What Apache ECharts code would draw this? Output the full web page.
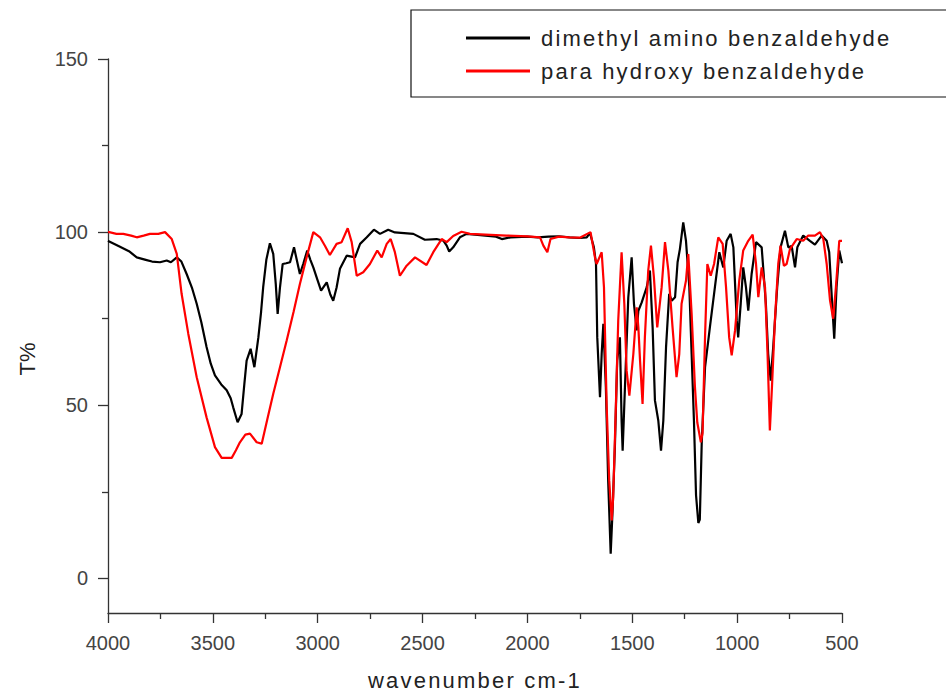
<!DOCTYPE html>
<html>
<head>
<meta charset="utf-8">
<script src="https://cdn.jsdelivr.net/npm/echarts@6/dist/echarts.min.js"></script>
<style>
html,body{margin:0;padding:0;background:#fff;overflow:hidden;}
#main{width:946px;height:695px;}
</style>
</head>
<body>
<div id="main"></div>
<script>
// ---- data (wavenumber cm-1, T%) ----
const seriesNames = ['dimethyl amino benzaldehyde', 'para hydroxy benzaldehyde'];
const xTicks = [4000, 3500, 3000, 2500, 2000, 1500, 1000, 500];
const yTicks = [0, 50, 100, 150];
const yMinorTicks = [25, 75, 125];

const dmabWn = [4000,3994,3950,3900,3863,3820,3790,3752,3720,3700,3672,3650,3625,3600,3577,3555,3530,3510,3490,3460,3434,3415,3403,3382,3363,3350,3339,3320,3302,3283,3270,3260,3245,3228,3212,3200,3191,3180,3167,3150,3132,3113,3100,3085,3068,3050,3035,3021,3000,2984,2957,2940,2926,2910,2894,2862,2822,2798,2766,2732,2703,2664,2632,2544,2489,2433,2400,2385,2373,2354,2322,2290,2250,2200,2150,2122,2080,2000,1950,1900,1850,1800,1750,1717,1702,1683,1673,1667,1654,1646,1638,1626,1615,1603,1594,1583,1572,1559,1551,1546,1535,1519,1503,1492,1479,1471,1455,1431,1416,1403,1392,1376,1363,1352,1339,1324,1312,1296,1284,1273,1257,1244,1228,1217,1206,1196,1185,1178,1169,1153,1130,1106,1085,1066,1050,1031,1018,1002,995,983,971,958,947,931,910,883,863,852,840,828,809,793,772,756,740,724,713,685,653,629,597,573,561,545,537,526,513,500];
const dmabT = [97.5,97.3,96,94.5,92.7,92,91.5,91.3,91.8,91.3,92.7,91.5,87.9,84,79.3,74,66.8,62,58.6,56,54.3,52,49.4,45.1,47.5,56,62.9,66.3,61,69.6,77,84.1,92,96.8,93.7,85,76.4,84,90.8,91,91.3,95.6,92,87.9,91,94.7,92,89.8,86,83.1,85.5,82,80.2,84,89.4,93.2,92.7,96.6,98.5,100.7,99.5,100.7,99.9,99.5,97.8,98,97.5,96.1,94.4,95.6,98.5,99.5,99.3,99,98.7,98,98.5,98.7,98.5,98.7,98.8,98.5,98.3,98.5,99.8,95.6,90.8,69.6,52.3,64.8,73.5,55.2,28.3,7.1,19.6,37.9,62.9,69.6,45.6,36.9,55.2,81.2,92.7,79.3,71.6,77.3,79.7,84.1,88.9,72.5,51.4,45.6,36.9,45.6,66.8,82.2,80.2,81.2,91.3,95.1,102.8,97.5,84.1,64.8,45.6,24,16,17,38.9,61,72.5,84.1,94.2,89.8,97.5,99.5,95.6,74.5,69.6,79.3,89.8,84.1,77.3,87.9,97.1,95.6,79.3,64.8,57.1,66.8,84.1,95.6,100.4,95.6,96,89.8,95.6,99,97.5,96.4,99,97.5,94.2,77.3,69.2,84.1,94.7,91];

const phbWn = [4000,3994,3960,3927,3890,3863,3830,3800,3760,3728,3696,3672,3649,3617,3577,3530,3490,3458,3410,3390,3371,3345,3323,3291,3267,3240,3212,3180,3148,3115,3085,3053,3021,2989,2965,2942,2910,2886,2857,2838,2814,2783,2751,2716,2695,2671,2652,2632,2608,2576,2536,2481,2449,2409,2385,2354,2314,2274,2200,2100,2000,1940,1924,1905,1890,1850,1800,1750,1699,1678,1670,1646,1635,1622,1610,1598,1591,1578,1567,1551,1538,1527,1514,1495,1479,1471,1463,1451,1440,1424,1411,1397,1381,1360,1344,1328,1308,1289,1276,1265,1244,1233,1217,1201,1190,1173,1165,1153,1142,1126,1110,1090,1069,1053,1038,1026,1010,990,971,947,926,910,899,883,867,855,844,834,820,804,793,777,764,748,716,685,661,629,605,589,573,557,542,529,513,500];
const phbT = [100,100,99.5,99.5,99,98.5,99,99.5,99.5,100,98,93.7,82.2,70.6,58.1,46.5,37.9,34.8,34.8,37,39.3,41.5,41.8,39.3,38.9,46,53.3,61,68.7,77,85,92.7,100,98.5,96,93.4,96.6,97.1,101.1,97.1,87.4,88.4,90.8,94.7,92.7,96.6,98,94.2,87.4,90.3,92.7,90.5,94.2,98,97.1,98.9,100.1,99.5,99.3,99,98.8,98.5,96.1,94.2,98,98.7,98.5,98.4,100,92.7,90.8,94.2,84.1,49.5,28.3,16.7,23.5,50.4,74.5,94.2,79.3,60,52.8,64.8,78.3,72.5,62.9,50.4,69.6,88.9,96.1,87,72.5,84.1,97.1,88.9,72.5,58.1,64.8,79.3,86,93.7,76.4,55,45,39.3,42,70,90.8,87.4,90.8,98.5,96.6,84.1,69.6,64.4,71.6,86,94.7,97.5,99.3,90.8,81.2,89.8,84.1,64.8,42.7,55.2,74.5,90.8,96.1,90.3,90.8,95.1,98,97.5,99,99,100,98,90.8,80.2,75,84.1,97.5,97.5];

const toPairs = (xs, ys) => xs.map((x, i) => [x, ys[i]]);

const chart = echarts.init(document.getElementById('main'), null, {renderer: 'svg'});
const FONT = '"Liberation Sans", Arial, sans-serif';

chart.setOption({
  animation: false,
  backgroundColor: '#fff',
  grid: {left: 108, right: 104, top: 59, bottom: 82, containLabel: false, outerBoundsMode: 'none'},
  legend: {
    orient: 'vertical',
    left: 411, top: 10,
    padding: [16, 120, 14, 55],
    itemGap: 9,
    itemWidth: 64, itemHeight: 3,
    icon: 'rect',
    borderColor: '#111', borderWidth: 1.2,
    textStyle: {fontFamily: FONT, fontSize: 22, color: '#222', lineHeight: 24, padding: [0, 0, 0, 6]},
    data: seriesNames
  },
  xAxis: {
    type: 'value', inverse: true, min: 500, max: 4000, interval: 500,
    name: 'wavenumber cm-1', nameLocation: 'middle', nameGap: 56,
    nameTextStyle: {fontFamily: FONT, fontSize: 22, color: '#222'},
    axisLine: {onZero: false, lineStyle: {color: '#333', width: 1.3}},
    axisTick: {length: 10, lineStyle: {color: '#333', width: 1.3}},
    minorTick: {show: true, splitNumber: 2, length: 6, lineStyle: {color: '#333', width: 1.3}},
    axisLabel: {fontFamily: FONT, fontSize: 20, color: '#444', margin: 20, formatter: v => String(v)},
    splitLine: {show: false}
  },
  yAxis: [{
    type: 'value', min: -10, max: 150,
    name: 'T%', nameLocation: 'middle', nameGap: 70, nameRotate: 90,
    nameTextStyle: {fontFamily: FONT, fontSize: 22, color: '#222', padding: [0, 46, 0, 0]},
    axisLine: {show: true, onZero: false, lineStyle: {color: '#333', width: 1.3}},
    axisTick: {show: true, length: 10, customValues: yTicks, lineStyle: {color: '#333', width: 1.3}},
    axisLabel: {fontFamily: FONT, fontSize: 20, color: '#444', margin: 20, customValues: yTicks, formatter: v => String(v)},
    splitLine: {show: false}
  }, {
    type: 'value', min: -10, max: 150, position: 'left', offset: 0,
    axisLine: {show: false},
    axisTick: {show: true, length: 6, customValues: yMinorTicks, lineStyle: {color: '#333', width: 1.3}},
    axisLabel: {show: false},
    splitLine: {show: false}
  }],
  series: [{
    name: seriesNames[0], type: 'line', showSymbol: false, symbol: 'none',
    lineStyle: {color: '#000', width: 2.2}, itemStyle: {color: '#000'},
    data: toPairs(dmabWn, dmabT)
  }, {
    name: seriesNames[1], type: 'line', showSymbol: false, symbol: 'none',
    lineStyle: {color: '#ff0000', width: 2.2}, itemStyle: {color: '#ff0000'},
    data: toPairs(phbWn, phbT)
  }]
});

function spaceText() {
  document.querySelectorAll('#main text').forEach(t => {
    const s = t.textContent;
    if (s === 'wavenumber cm-1') t.style.letterSpacing = '2.2px';
    else if (seriesNames.includes(s)) t.style.letterSpacing = '2.2px';
  });
}
chart.on('finished', spaceText);
spaceText();
</script>
</body>
</html>
